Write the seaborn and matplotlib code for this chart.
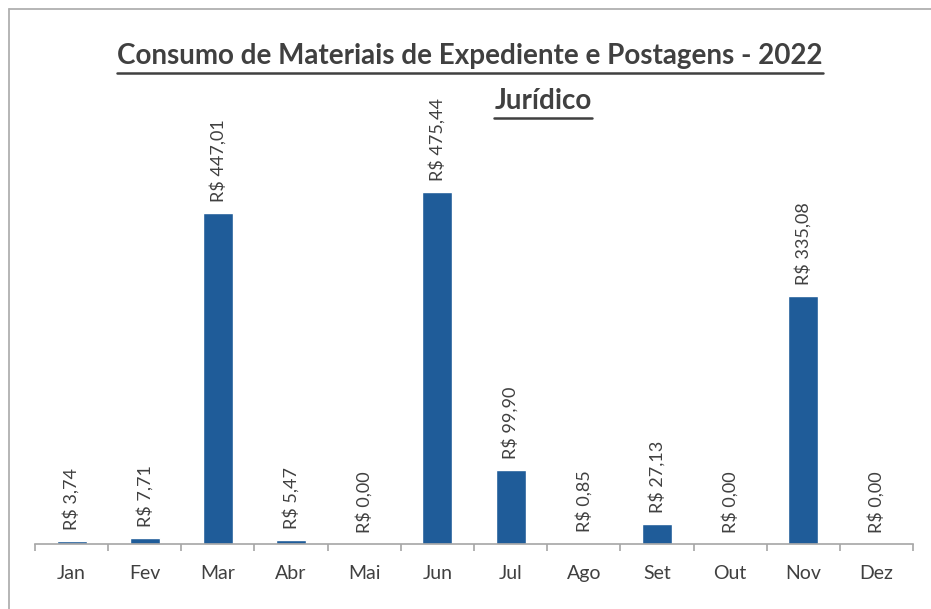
import matplotlib
matplotlib.use("Agg")
import matplotlib.pyplot as plt
import seaborn as sns
import pandas as pd
from matplotlib.lines import Line2D

# Data
meses = ["Jan", "Fev", "Mar", "Abr", "Mai", "Jun", "Jul", "Ago", "Set", "Out", "Nov", "Dez"]
valores = [3.74, 7.71, 447.01, 5.47, 0.00, 475.44, 99.90, 0.85, 27.13, 0.00, 335.08, 0.00]

df = pd.DataFrame({"mes": meses, "valor": valores})

sns.set_theme(style="white")
plt.rcParams["font.family"] = ["Lato", "DejaVu Sans"]

W, H = 931, 609
fig = plt.figure(figsize=(W / 100, H / 100), dpi=100)
ax = fig.add_axes([35 / W, 1 - 544 / H, 878 / W, 444 / H])

sns.barplot(data=df, x="mes", y="valor", color="#1f5c99", width=0.41,
            saturation=1, ax=ax)
ax.set_ylim(0, 600)
ax.set_xlim(-0.5, len(meses) - 0.5)

# value labels, rotated like the original
for i, v in enumerate(valores):
    txt = "R$ " + f"{v:.2f}".replace(".", ",")
    ax.annotate(txt, (i, v), xytext=(0, 8), textcoords="offset points",
                rotation=90, ha="center", va="bottom", fontsize=13, color="#404040")

# axis styling
for s in ["top", "right", "left"]:
    ax.spines[s].set_visible(False)
ax.spines["bottom"].set_color("#a6a6a6")
ax.spines["bottom"].set_linewidth(1.2)
ax.set_yticks([])
ax.set_xlabel("")
ax.set_ylabel("")
ax.set_xticks(range(len(meses)))
ax.set_xticklabels(meses, fontsize=14, color="#404040")
ax.tick_params(axis="x", length=0, pad=15)
# tick marks between categories
ax.set_xticks([i - 0.5 for i in range(len(meses) + 1)], minor=True)
ax.tick_params(axis="x", which="minor", length=5, color="#a6a6a6", width=1.2, bottom=True)

# titles with underline
t1 = fig.text(470 / W, 1 - 56 / H, "Consumo de Materiais de Expediente e Postagens - 2022",
              ha="center", va="center", fontsize=20, fontweight="bold", color="#404040")
t2 = fig.text(543 / W, 1 - 101 / H, "Jurídico", ha="center", va="center",
              fontsize=20, fontweight="bold", color="#404040")
fig.canvas.draw()
r = fig.canvas.get_renderer()
for t, off in [(t1, 4), (t2, 4)]:
    bb = t.get_window_extent(renderer=r)
    y = (bb.y0 - off) / H
    fig.add_artist(Line2D([bb.x0 / W, bb.x1 / W], [y, y], color="#404040", lw=1.8))

# chart border (top and left visible)
fig.add_artist(Line2D([9 / W, 1.0], [1 - 9 / H, 1 - 9 / H], color="#b0b0b0", lw=1.3))
fig.add_artist(Line2D([9 / W, 9 / W], [0, 1 - 9 / H], color="#b0b0b0", lw=1.3))

fig.savefig("out.png", dpi=100)
